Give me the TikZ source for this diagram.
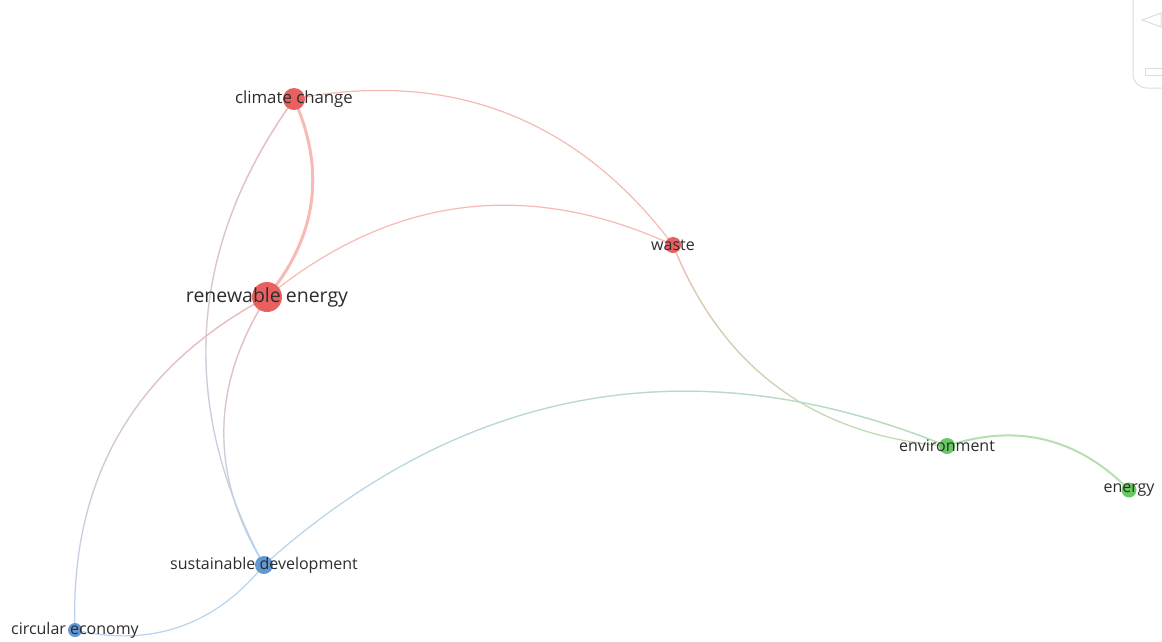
\documentclass[tikz,border=0pt]{standalone}
\usepackage{fontspec}
\setmainfont{Open Sans}
\usetikzlibrary{fadings}

\definecolor{nodered}{RGB}{233,96,96}
\definecolor{nodegreen}{RGB}{104,201,98}
\definecolor{nodeblue}{RGB}{98,152,210}
\definecolor{edgered}{RGB}{247,186,181}
\definecolor{edgegreen}{RGB}{182,224,175}
\definecolor{edgeblue}{RGB}{184,212,240}
\definecolor{labeltext}{RGB}{45,45,45}
\definecolor{uigray}{RGB}{222,222,222}

% opaque at the top / right, clear at the other end
\tikzfading[name=fadetop, top color=transparent!0, bottom color=transparent!100]
\tikzfading[name=faderight, right color=transparent!0, left color=transparent!100]

\begin{document}
\begin{tikzpicture}[x=1pt,y=-1pt,
  redge/.style={draw=edgered, line width=1.2pt},
  gedge/.style={draw=edgegreen, line width=1.2pt},
  bedge/.style={draw=edgeblue, line width=1.2pt},
  bl/.style={bend left=32},
  br/.style={bend right=32},
  dot/.style={circle, draw=none, inner sep=0pt, minimum size=#1},
  reddot/.style={dot=#1, fill=nodered},
  greendot/.style={dot=#1, fill=nodegreen},
  bluedot/.style={dot=#1, fill=nodeblue},
  term/.style={text=labeltext, inner sep=0pt, font=\fontsize{16}{19}\selectfont},
  bigterm/.style={term, font=\fontsize{19.5}{23}\selectfont},
  midterm/.style={term, font=\fontsize{16.8}{20}\selectfont},
  ui/.style={draw=uigray, line width=1pt}
]
\fill[white] (0,0) rectangle (1162,641);
\useasboundingbox (0,0) rectangle (1162,641);

% node centres
\coordinate (cc) at (294,99);
\coordinate (re) at (267,297);
\coordinate (wa) at (673,245);
\coordinate (en) at (947,446);
\coordinate (eg) at (1129,490);
\coordinate (sd) at (264,565);
\coordinate (ce) at (75,630);

% links, all bent by the same angle
\draw[redge, line width=3pt] (cc) to[bl] (re);
\draw[redge] (cc) to[bl] (wa);
\draw[bedge] (cc) to[br] (sd);
\draw[redge, path fading=fadetop] (cc) to[br] (sd);
\draw[redge] (re) to[bl] (wa);
\draw[bedge] (re) to[br] (sd);
\draw[redge, path fading=fadetop] (re) to[br] (sd);
\draw[bedge] (re) to[br] (ce);
\draw[redge, path fading=fadetop] (re) to[br] (ce);
\draw[gedge] (wa) to[br] (en);
\draw[redge, path fading=fadetop] (wa) to[br] (en);
\draw[bedge] (en) to[br] (sd);
\draw[gedge, path fading=faderight] (en) to[br] (sd);
\draw[gedge, line width=2pt] (en) to[bl] (eg);
\draw[bedge] (sd) to[bl] (ce);

% items
\node[reddot=22] (ccdot) at (cc) {};
\node[reddot=30] (redot) at (re) {};
\node[reddot=16] (wadot) at (wa) {};
\node[greendot=16] (endot) at (en) {};
\node[greendot=15] (egdot) at (eg) {};
\node[bluedot=18] (sddot) at (sd) {};
\node[bluedot=14] (cedot) at (ce) {};

% labels
\node[midterm] (cclab) at (cc) {climate change};
\node[bigterm] (relab) at (re) {renewable energy};
\node[term] (walab) at (wa) {waste};
\node[term] (enlab) at (en) {environment};
\node[term] (eglab) at (eg) {energy};
\node[term] (sdlab) at (sd) {sustainable development};
\node[term] (celab) at (ce) {circular economy};

% corner control panel
\draw[ui, rounded corners=14pt] (1133,-5) -- (1133,88) -- (1175,88);
\draw[ui] (1161,13) -- (1142,20) -- (1161,27) -- cycle;
\draw[ui] (1170,68) -- (1145,68) -- (1145,75) -- (1170,75);
\end{tikzpicture}
\end{document}
